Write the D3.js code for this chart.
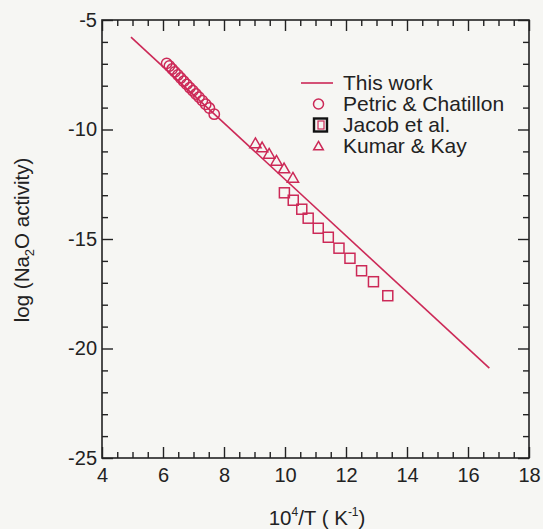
<!DOCTYPE html>
<html>
<head>
<meta charset="utf-8">
<script src="https://cdn.jsdelivr.net/npm/d3@7"></script>
<style>
  html, body { margin: 0; padding: 0; background: #f6f6f3; }
  svg { display: block; }
  text { font-family: "Liberation Sans", Arial, sans-serif; fill: #222; }
</style>
</head>
<body>
<svg id="chart" width="543" height="529"></svg>
<script>
// Calculated activity line (endpoints of the straight fit)
const lineX = [4.95, 16.7];
const lineY = [-5.78, -20.9];

// Petric & Chatillon (circles)
const petricX = [6.12, 6.21, 6.30, 6.39, 6.49, 6.58, 6.68, 6.78, 6.88, 6.98, 7.08, 7.18, 7.29, 7.40, 7.52, 7.68];
const petricY = [-6.98, -7.10, -7.24, -7.37, -7.51, -7.65, -7.80, -7.94, -8.09, -8.23, -8.38, -8.52, -8.68, -8.85, -9.02, -9.30];

// Jacob et al. (squares)
const jacobX = [9.98, 10.27, 10.55, 10.76, 11.09, 11.42, 11.77, 12.13, 12.51, 12.90, 13.37];
const jacobY = [-12.89, -13.23, -13.64, -14.05, -14.51, -14.92, -15.42, -15.88, -16.45, -16.95, -17.59];

// Kumar & Kay (triangles)
const kumarX = [9.03, 9.25, 9.48, 9.72, 9.97, 10.26];
const kumarY = [-10.68, -10.87, -11.16, -11.48, -11.83, -12.26];

// Axis ticks
const xMajor = [4, 6, 8, 10, 12, 14, 16, 18];
const xMinor = d3.range(4, 18.01, 0.5).filter(v => v % 2 !== 0);
const yMajor = [-25, -20, -15, -10, -5];
const yMinor = d3.range(-25, -4.99, 1).filter(v => v % 5 !== 0);

const legendLabels = ["This work", "Petric & Chatillon", "Jacob et al.", "Kumar & Kay"];

const red = "#cc2957";
const ink = "#222";

const svg = d3.select("#chart");
const plotL = 102, plotR = 529, plotT = 20, plotB = 458;

const x = d3.scaleLinear().domain([4, 18]).range([plotL, plotR]);
const y = d3.scaleLinear().domain([-25, -5]).range([plotB, plotT]);

// Frame
svg.append("rect")
  .attr("x", plotL).attr("y", plotT)
  .attr("width", plotR - plotL).attr("height", plotB - plotT)
  .attr("fill", "none").attr("stroke", ink).attr("stroke-width", 1.6);

function styleAxis(g) {
  g.select(".domain").remove();
  g.selectAll(".tick line").attr("stroke", ink).attr("stroke-width", 1.4);
  g.selectAll("text").attr("font-size", 20).attr("fill", ink)
    .attr("font-family", "Liberation Sans, Arial, sans-serif");
}
const fmt = d => String(d);

// Bottom axis
svg.append("g").attr("transform", `translate(0,${plotB})`)
  .call(d3.axisBottom(x).tickValues(xMajor).tickSize(-11).tickPadding(10).tickFormat(fmt))
  .call(styleAxis);
svg.append("g").attr("transform", `translate(0,${plotB})`)
  .call(d3.axisBottom(x).tickValues(xMinor).tickSize(-6).tickFormat(""))
  .call(styleAxis);
// Top axis
svg.append("g").attr("transform", `translate(0,${plotT})`)
  .call(d3.axisTop(x).tickValues(xMajor).tickSize(-11).tickFormat(""))
  .call(styleAxis);
svg.append("g").attr("transform", `translate(0,${plotT})`)
  .call(d3.axisTop(x).tickValues(xMinor).tickSize(-6).tickFormat(""))
  .call(styleAxis);
// Left axis
svg.append("g").attr("transform", `translate(${plotL},0)`)
  .call(d3.axisLeft(y).tickValues(yMajor).tickSize(-11).tickPadding(5).tickFormat(fmt))
  .call(styleAxis);
svg.append("g").attr("transform", `translate(${plotL},0)`)
  .call(d3.axisLeft(y).tickValues(yMinor).tickSize(-6).tickFormat(""))
  .call(styleAxis);
// Right axis
svg.append("g").attr("transform", `translate(${plotR},0)`)
  .call(d3.axisRight(y).tickValues(yMajor).tickSize(-11).tickFormat(""))
  .call(styleAxis);
svg.append("g").attr("transform", `translate(${plotR},0)`)
  .call(d3.axisRight(y).tickValues(yMinor).tickSize(-6).tickFormat(""))
  .call(styleAxis);

// Fitted line
const line = d3.line().x(d => x(d[0])).y(d => y(d[1]));
svg.append("path")
  .datum(d3.zip(lineX, lineY))
  .attr("d", line)
  .attr("fill", "none").attr("stroke", red).attr("stroke-width", 1.6);

// Circles
svg.append("g").selectAll("circle")
  .data(d3.zip(petricX, petricY)).join("circle")
  .attr("cx", d => x(d[0])).attr("cy", d => y(d[1])).attr("r", 5.2)
  .attr("fill", "none").attr("stroke", red).attr("stroke-width", 1.5);

// Squares
const sq = 10;
svg.append("g").selectAll("rect")
  .data(d3.zip(jacobX, jacobY)).join("rect")
  .attr("x", d => x(d[0]) - sq / 2).attr("y", d => y(d[1]) - sq / 2)
  .attr("width", sq).attr("height", sq)
  .attr("fill", "none").attr("stroke", red).attr("stroke-width", 1.5);

// Triangles
const tri = d3.symbol().type(d3.symbolTriangle).size(55);
svg.append("g").selectAll("path")
  .data(d3.zip(kumarX, kumarY)).join("path")
  .attr("transform", d => `translate(${x(d[0])},${y(d[1])})`)
  .attr("d", tri)
  .attr("fill", "none").attr("stroke", red).attr("stroke-width", 1.5);

// Legend
const lg = svg.append("g");
const rowY = [83, 104, 125, 146];
const textX = 343, symX = 318.5;
lg.append("line")
  .attr("x1", 301).attr("x2", 333).attr("y1", rowY[0]).attr("y2", rowY[0])
  .attr("stroke", red).attr("stroke-width", 1.6);
lg.append("circle").attr("cx", symX).attr("cy", rowY[1]).attr("r", 5)
  .attr("fill", "none").attr("stroke", red).attr("stroke-width", 1.5);
lg.append("rect").attr("x", symX - 6.5 + 2).attr("y", rowY[2] - 6.5)
  .attr("width", 13).attr("height", 13)
  .attr("fill", "none").attr("stroke", "#111").attr("stroke-width", 2.4);
lg.append("rect").attr("x", symX - 2.5 + 2).attr("y", rowY[2] - 4)
  .attr("width", 6).attr("height", 8)
  .attr("fill", "none").attr("stroke", red).attr("stroke-width", 1.2);
lg.append("path").attr("transform", `translate(${symX},${rowY[3] + 1})`)
  .attr("d", d3.symbol().type(d3.symbolTriangle).size(40))
  .attr("fill", "none").attr("stroke", red).attr("stroke-width", 1.5);
lg.selectAll("text.lab").data(legendLabels).join("text")
  .attr("class", "lab")
  .attr("x", textX).attr("y", (d, i) => rowY[i] + 7)
  .attr("font-size", 21)
  .text(d => d);

// Axis titles
const xt = svg.append("text")
  .attr("x", 317).attr("y", 525)
  .attr("text-anchor", "middle").attr("font-size", 20.5);
xt.append("tspan").text("10");
xt.append("tspan").attr("font-size", 12).attr("dy", -9).text("4");
xt.append("tspan").attr("dy", 9).text("/T ( K");
xt.append("tspan").attr("font-size", 12).attr("dy", -9).text("-1");
xt.append("tspan").attr("dy", 9).text(")");

const yt = svg.append("text")
  .attr("transform", "translate(29,240) rotate(-90)")
  .attr("text-anchor", "middle").attr("font-size", 20.5);
yt.append("tspan").text("log (Na");
yt.append("tspan").attr("font-size", 13).attr("dy", 5).text("2");
yt.append("tspan").attr("dy", -5).text("O activity)");
</script>
</body>
</html>
